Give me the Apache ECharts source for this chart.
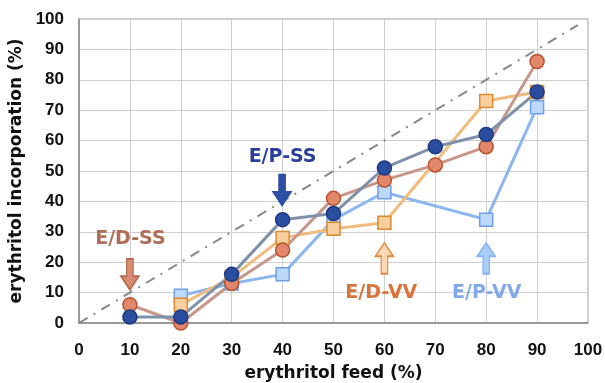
<!DOCTYPE html>
<html>
<head>
<meta charset="utf-8">
<script src="https://cdn.jsdelivr.net/npm/echarts@6/dist/echarts.min.js"></script>
<style>
  html, body { margin: 0; padding: 0; background: #fff; }
  #chart { width: 605px; height: 383px; }
</style>
</head>
<body>
<div id="chart"></div>
<script>
// erythritol feed (%) for each point
const feed = [10, 20, 30, 40, 50, 60, 70, 80, 90];
// erythritol incorporation (%), null = no point
const epSS = [2, 2, 16, 34, 36, 51, 58, 62, 76];
const edSS = [6, 0, 13, 24, 41, 47, 52, 58, 86];
const edVV = [null, 6, 15, 28, 31, 33, null, 73, 76];
const epVV = [null, 9, 13, 16, 34, 43, null, 34, 71];
const diagonal = [[0, 0], [98, 98]];

const TICK_FONT = "'Liberation Sans', Arial, sans-serif";
const WIDE_FONT = "'DejaVu Sans', Verdana, sans-serif";

function pairs(vals) {
  return feed.map((x, i) => [x, vals[i]]).filter((p) => p[1] !== null);
}

// block arrows pointing down / up
const arrowDown = "path://M3.2,0 L6.8,0 L6.8,9 L10,9 L5,16 L0,9 L3.2,9 Z";
const arrowUp = "path://M5,0 L10,7 L6.8,7 L6.8,16 L3.2,16 L3.2,7 L0,7 Z";

function note(text, coord, color) {
  return {
    coord,
    symbolSize: 0,
    label: {
      show: true,
      position: "inside",
      formatter: text,
      color,
      fontFamily: WIDE_FONT,
      fontWeight: "bold",
      fontSize: 19,
    },
  };
}

function arrow(path, coord, fill, border) {
  return {
    coord,
    symbol: path,
    symbolSize: [18, 31],
    itemStyle: { color: fill, borderColor: border, borderWidth: 1.5 },
    label: { show: false },
  };
}

function lineSeries(name, vals, shape, lineColor, fill, border, marks) {
  return {
    name,
    type: "line",
    data: pairs(vals),
    symbol: shape,
    symbolSize: shape === "circle" ? 14 : 13,
    lineStyle: { color: lineColor, width: 3 },
    itemStyle: { color: fill, borderColor: border, borderWidth: 1.5 },
    emphasis: { disabled: true },
    markPoint: { silent: true, animation: false, data: marks },
  };
}

const chart = echarts.init(document.getElementById("chart"));

const axisLabel = {
  color: "#111",
  fontFamily: TICK_FONT,
  fontWeight: "bold",
  fontSize: 17,
};
const axisName = {
  color: "#111",
  fontFamily: WIDE_FONT,
  fontWeight: "bold",
  fontSize: 17,
};

const option = {
  animation: false,
  grid: {
    left: 79, right: 17, top: 19, bottom: 60,
    outerBoundsMode: "none",
    containLabel: false,
    show: true, borderColor: "#999", borderWidth: 1,
  },
  xAxis: {
    type: "value",
    min: 0,
    max: 100,
    interval: 10,
    name: "erythritol feed (%)",
    nameLocation: "middle",
    nameGap: 42,
    nameTextStyle: axisName,
    axisLine: { lineStyle: { color: "#888", width: 1.5 } },
    axisTick: { show: false },
    axisLabel: { ...axisLabel, margin: 19 },
    splitLine: { lineStyle: { color: "#cfcfcf" } },
  },
  yAxis: {
    type: "value",
    min: 0,
    max: 100,
    interval: 10,
    name: "erythritol incorporation (%)",
    nameLocation: "middle",
    nameGap: 50,
    nameTextStyle: axisName,
    axisLine: { show: true, lineStyle: { color: "#888", width: 1.5 } },
    axisTick: { show: false },
    axisLabel: { ...axisLabel, margin: 15 },
    splitLine: { lineStyle: { color: "#cfcfcf" } },
  },
  series: [
    {
      name: "diagonal",
      type: "line",
      data: diagonal,
      symbol: "none",
      lineStyle: { color: "#888", width: 2, type: [10, 7, 2, 7] },
      silent: true,
    },
    lineSeries("E/P-VV", epVV, "rect", "#8cb6ef", "#bcd8fb", "#6e9fe6", [
      arrow(arrowUp, [80, 21.3], "#a9cdf7", "#86b2ef"),
      note("E/P-VV", [80.1, 10], "#82aaea"),
    ]),
    lineSeries("E/D-VV", edVV, "rect", "#f1bb7c", "#f9cf9e", "#dd8a30", [
      arrow(arrowUp, [60, 21.3], "#fbd9b3", "#e0893c"),
      note("E/D-VV", [59.4, 10], "#d9733a"),
    ]),
    lineSeries("E/D-SS", edSS, "circle", "#c8978a", "#e3876c", "#b9532f", [
      arrow(arrowDown, [10, 16], "#d98c74", "#b5654a"),
      note("E/D-SS", [10.1, 27.7], "#b06d58"),
    ]),
    lineSeries("E/P-SS", epSS, "circle", "#7f91aa", "#2b4d9f", "#1f3a80", [
      arrow(arrowDown, [39.9, 43.7], "#2d4fa3", "#2d4fa3"),
      note("E/P-SS", [40, 54.7], "#2a3f9c"),
    ]),
  ],
};

chart.setOption(option);
</script>
</body>
</html>
